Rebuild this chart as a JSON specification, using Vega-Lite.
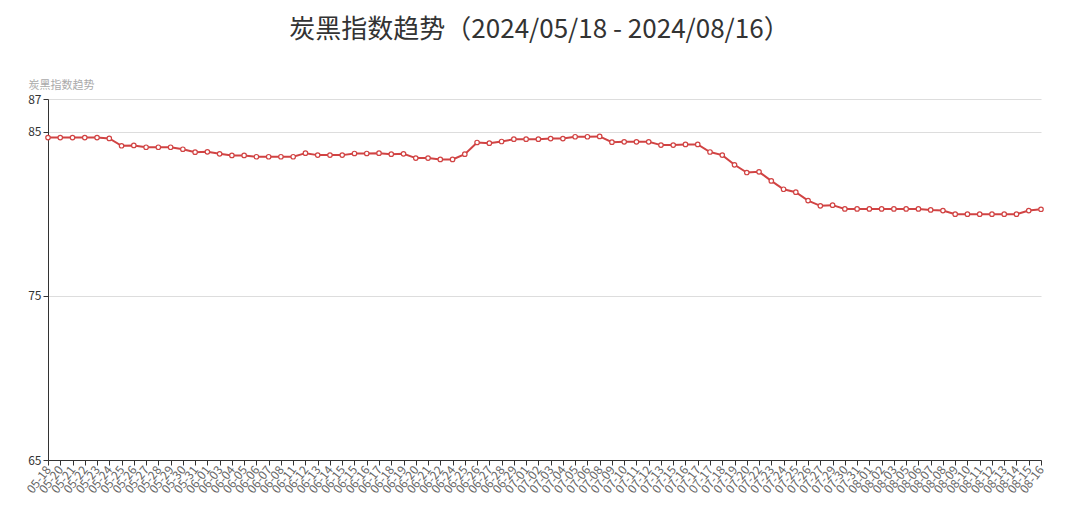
{
  "$schema": "https://vega.github.io/schema/vega-lite/v6.json",
  "width": 993,
  "height": 361,
  "autosize": {"type": "none"},
  "padding": {"left": 48, "top": 99, "right": 39, "bottom": 46},
  "background": "white",
  "title": {
    "text": "炭黑指数趋势（2024/05/18 - 2024/08/16）",
    "fontSize": 26,
    "font": "Noto Sans CJK SC",
    "fontWeight": "normal",
    "color": "#333333",
    "anchor": "middle",
    "frame": "group",
    "offset": 36,
    "dx": -5
  },
  "data": {
    "values": [
      {"d": "05-18", "v": 84.65},
      {"d": "05-20", "v": 84.65},
      {"d": "05-21", "v": 84.65},
      {"d": "05-22", "v": 84.65},
      {"d": "05-23", "v": 84.65},
      {"d": "05-24", "v": 84.6},
      {"d": "05-25", "v": 84.15},
      {"d": "05-26", "v": 84.17},
      {"d": "05-27", "v": 84.06},
      {"d": "05-28", "v": 84.06},
      {"d": "05-29", "v": 84.06},
      {"d": "05-30", "v": 83.94},
      {"d": "05-31", "v": 83.76},
      {"d": "06-01", "v": 83.78},
      {"d": "06-03", "v": 83.66},
      {"d": "06-04", "v": 83.56},
      {"d": "06-05", "v": 83.56},
      {"d": "06-06", "v": 83.48},
      {"d": "06-07", "v": 83.48},
      {"d": "06-08", "v": 83.48},
      {"d": "06-11", "v": 83.48},
      {"d": "06-12", "v": 83.7},
      {"d": "06-13", "v": 83.58},
      {"d": "06-14", "v": 83.58},
      {"d": "06-15", "v": 83.58},
      {"d": "06-15\u200b", "v": 83.68},
      {"d": "06-16", "v": 83.68},
      {"d": "06-17", "v": 83.7},
      {"d": "06-18", "v": 83.64},
      {"d": "06-19", "v": 83.66},
      {"d": "06-20", "v": 83.4},
      {"d": "06-21", "v": 83.4},
      {"d": "06-22", "v": 83.32},
      {"d": "06-24", "v": 83.32},
      {"d": "06-25", "v": 83.64},
      {"d": "06-26", "v": 84.35},
      {"d": "06-27", "v": 84.31},
      {"d": "06-28", "v": 84.41},
      {"d": "06-29", "v": 84.55},
      {"d": "07-01", "v": 84.55},
      {"d": "07-02", "v": 84.55},
      {"d": "07-03", "v": 84.59},
      {"d": "07-04", "v": 84.59},
      {"d": "07-05", "v": 84.7},
      {"d": "07-06", "v": 84.7},
      {"d": "07-08", "v": 84.72},
      {"d": "07-09", "v": 84.37},
      {"d": "07-10", "v": 84.39},
      {"d": "07-11", "v": 84.39},
      {"d": "07-12", "v": 84.39},
      {"d": "07-13", "v": 84.19},
      {"d": "07-15", "v": 84.19},
      {"d": "07-16", "v": 84.23},
      {"d": "07-17", "v": 84.23},
      {"d": "07-17\u200b", "v": 83.77},
      {"d": "07-18", "v": 83.58},
      {"d": "07-19", "v": 82.99},
      {"d": "07-20", "v": 82.52},
      {"d": "07-22", "v": 82.56},
      {"d": "07-23", "v": 82.01},
      {"d": "07-24", "v": 81.5},
      {"d": "07-25", "v": 81.32},
      {"d": "07-26", "v": 80.81},
      {"d": "07-27", "v": 80.49},
      {"d": "07-29", "v": 80.53},
      {"d": "07-30", "v": 80.3},
      {"d": "07-31", "v": 80.3},
      {"d": "08-01", "v": 80.3},
      {"d": "08-02", "v": 80.3},
      {"d": "08-03", "v": 80.3},
      {"d": "08-05", "v": 80.3},
      {"d": "08-06", "v": 80.3},
      {"d": "08-07", "v": 80.24},
      {"d": "08-08", "v": 80.2},
      {"d": "08-09", "v": 79.98},
      {"d": "08-10", "v": 79.98},
      {"d": "08-11", "v": 79.98},
      {"d": "08-12", "v": 79.98},
      {"d": "08-13", "v": 79.98},
      {"d": "08-14", "v": 79.98},
      {"d": "08-15", "v": 80.2},
      {"d": "08-16", "v": 80.28}
    ]
  },
  "encoding": {
    "x": {
      "field": "d",
      "type": "ordinal",
      "sort": null,
      "scale": {"type": "point", "padding": 0},
      "axis": {
        "title": null,
        "labelAngle": -52,
        "labelFontSize": 12,
        "labelColor": "#666666",
        "labelOverlap": false,
        "labelPadding": 2,
        "tickSize": 5,
        "tickColor": "#333333",
        "domainColor": "#333333",
        "grid": false
      }
    },
    "y": {
      "field": "v",
      "type": "quantitative",
      "scale": {"domain": [65, 87], "nice": false, "zero": false},
      "axis": {
        "title": "炭黑指数趋势",
        "titleAngle": 0,
        "titleAlign": "left",
        "titleBaseline": "bottom",
        "titleX": -20,
        "titleY": -9,
        "titleFontSize": 11,
        "titleFontWeight": "normal",
        "titleColor": "#aaaaaa",
        "values": [65, 75, 85, 87],
        "labelFontSize": 12,
        "labelColor": "#333333",
        "labelPadding": 2,
        "tickSize": 5,
        "tickColor": "#333333",
        "domainColor": "#333333",
        "grid": true,
        "gridColor": "#dddddd"
      }
    }
  },
  "layer": [
    {"mark": {"type": "line", "color": "#d14343", "strokeWidth": 2}},
    {"mark": {"type": "point", "filled": true, "fill": "white", "stroke": "#d14343", "strokeWidth": 1.2, "size": 20, "opacity": 1}}
  ],
  "config": {
    "view": {"stroke": null},
    "font": "Noto Sans CJK SC"
  }
}
